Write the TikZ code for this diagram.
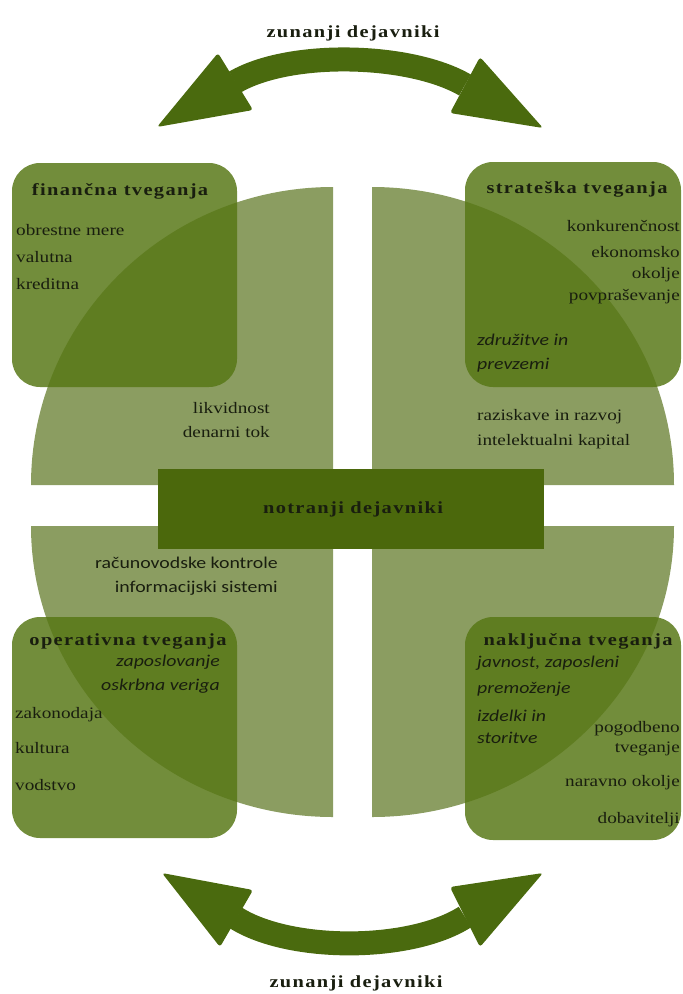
\documentclass[tikz,border=0pt]{standalone}
\usepackage{fontspec}
\setmainfont{Liberation Serif}[FakeStretch=1.2]
\newfontfamily\headfont{Liberation Serif}[FakeStretch=1.2,LetterSpace=8]
\newfontfamily\sansfont{Carlito}[FakeStretch=1.2]
\definecolor{quadc}{RGB}{139,157,97}
\definecolor{boxc}{RGB}{87,119,21}
\definecolor{corec}{RGB}{75,104,12}
\definecolor{arrc}{RGB}{74,106,14}
\definecolor{inkc}{RGB}{25,30,15}
\tikzset{
  quad/.style={fill=quadc},
  riskbox/.style={fill=boxc, fill opacity=0.84, rounded corners=28pt},
  arrband/.style={draw=arrc, line width=24pt},
  arrhead/.style={fill=arrc, rounded corners=3pt},
  head/.style={font=\headfont\bfseries\fontsize{17}{20}\selectfont, text=inkc, inner sep=0pt, anchor=base},
  body/.style={font=\fontsize{16}{19}\selectfont, text=inkc, inner sep=0pt},
  sbody/.style={font=\sansfont\fontsize{16.5}{19}\selectfont, text=inkc, inner sep=0pt},
  ibody/.style={font=\sansfont\itshape\fontsize{16.5}{19}\selectfont, text=inkc, inner sep=0pt},
}
\begin{document}
\begin{tikzpicture}[x=1pt,y=-1pt]
\useasboundingbox (0,0) rectangle (683,994);

% four quarter pieces of the disc, pulled apart
\fill[quad] (333,485) -- (31,485) arc[start angle=180,end angle=270,x radius=302,y radius=298] -- cycle;
\fill[quad] (372,485) -- (372,187) arc[start angle=270,end angle=360,x radius=302,y radius=298] -- cycle;
\fill[quad] (333,526) -- (31,526) arc[start angle=180,end angle=90,x radius=302,y radius=291] -- cycle;
\fill[quad] (372,526) -- (674,526) arc[start angle=0,end angle=90,x radius=302,y radius=291] -- cycle;

% risk boxes
\fill[riskbox] (12,163) rectangle (237,387);
\fill[riskbox] (465,162) rectangle (681,387);
\fill[riskbox] (12,617) rectangle (237,838);
\fill[riskbox] (465,617) rectangle (681,840);

% internal factors bar
\fill[corec] (158,469) rectangle (544,549);
\node[head] (core) at (353,513) {notranji dejavniki};

% external factors: upper double arrow
\draw[arrband] (235,82) .. controls (290,50) and (410,53) .. (465,85);
\fill[arrhead] (157,127) -- (218,53) -- (253,110) -- cycle;
\fill[arrhead] (543,128) -- (480,57) -- (450,113) -- cycle;
\node[head] (extTop) at (353,37) {zunanji dejavniki};

% external factors: lower double arrow
\draw[arrband] (236,918) .. controls (290,952) and (410,952) .. (465,917);
\fill[arrhead] (162,873) -- (253,890) -- (220,947) -- cycle;
\fill[arrhead] (543,873) -- (450,887) -- (480,947) -- cycle;
\node[head] (extBot) at (356,987) {zunanji dejavniki};

% financial risks
\node[head] (finT) at (120,195) {finančna tveganja};
\node[body, anchor=base west] (fin1) at (16,235) {obrestne mere};
\node[body, anchor=base west] (fin2) at (16,262) {valutna};
\node[body, anchor=base west] (fin3) at (16,289) {kreditna};
\node[body, anchor=base east] (fin4) at (270,413) {likvidnost};
\node[body, anchor=base east] (fin5) at (270,437) {denarni tok};

% strategic risks
\node[head] (strT) at (577,193) {strateška tveganja};
\node[body, anchor=base east] (str1) at (680,231) {konkurenčnost};
\node[body, anchor=base east] (str2) at (680,257) {ekonomsko};
\node[body, anchor=base east] (str3) at (680,278) {okolje};
\node[body, anchor=base east] (str4) at (680,300) {povpraševanje};
\node[ibody, anchor=base west] (str5) at (477,345) {združitve in};
\node[ibody, anchor=base west] (str6) at (477,369) {prevzemi};
\node[body, anchor=base west] (str7) at (477,420) {raziskave in razvoj};
\node[body, anchor=base west] (str8) at (477,445) {intelektualni kapital};

% operational risks
\node[sbody, anchor=base east] (op1) at (278,568) {računovodske kontrole};
\node[sbody, anchor=base east] (op2) at (278,592) {informacijski sistemi};
\node[head] (opT) at (128,645) {operativna tveganja};
\node[ibody, anchor=base east] (op3) at (220,666) {zaposlovanje};
\node[ibody, anchor=base east] (op4) at (220,690) {oskrbna veriga};
\node[body, anchor=base west] (op5) at (15,718) {zakonodaja};
\node[body, anchor=base west] (op6) at (15,753) {kultura};
\node[body, anchor=base west] (op7) at (15,790) {vodstvo};

% hazard risks
\node[head] (hzT) at (578,645) {naključna tveganja};
\node[ibody, anchor=base west] (hz1) at (477,667) {javnost, zaposleni};
\node[ibody, anchor=base west] (hz2) at (477,693) {premoženje};
\node[ibody, anchor=base west] (hz3) at (477,721) {izdelki in};
\node[ibody, anchor=base west] (hz4) at (477,743) {storitve};
\node[body, anchor=base east] (hz5) at (680,732) {pogodbeno};
\node[body, anchor=base east] (hz6) at (680,752) {tveganje};
\node[body, anchor=base east] (hz7) at (680,786) {naravno okolje};
\node[body, anchor=base east] (hz8) at (680,823) {dobavitelji};
\end{tikzpicture}
\end{document}
